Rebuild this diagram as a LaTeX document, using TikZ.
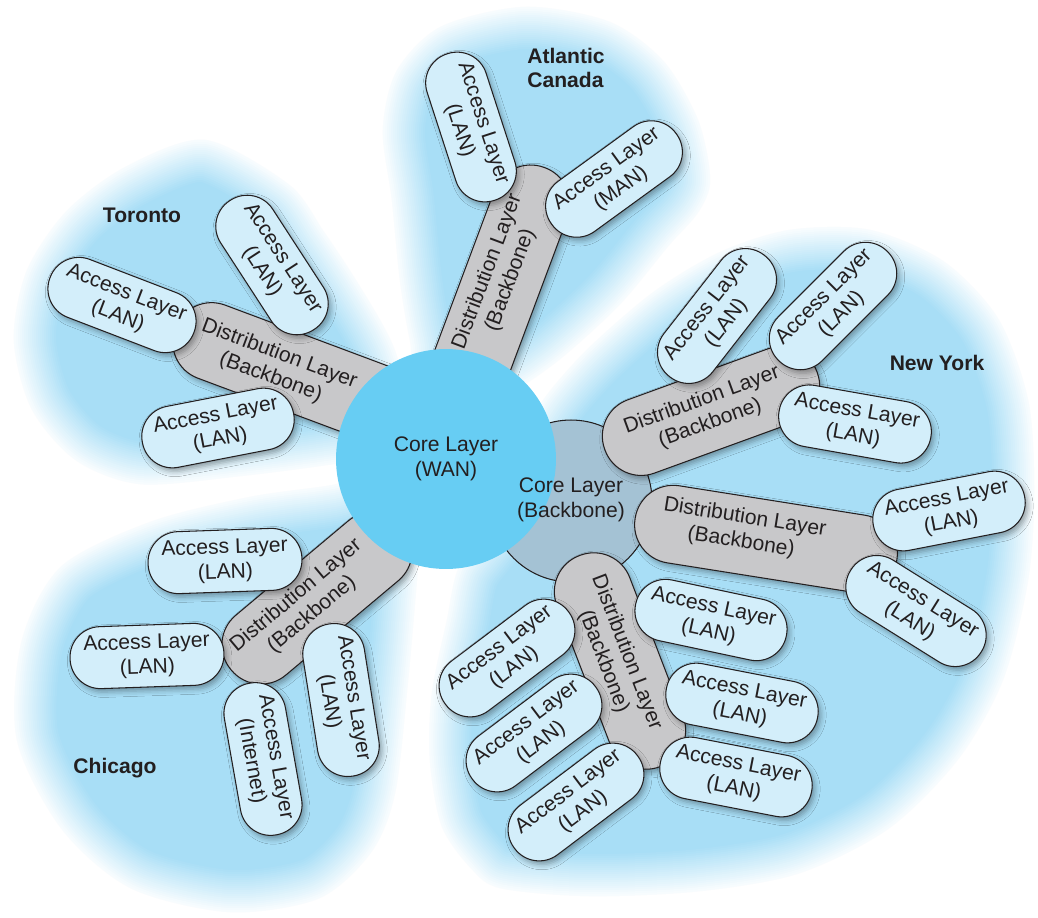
\documentclass[tikz,border=0pt]{standalone}
\usepackage{fontspec}
\setmainfont{Liberation Sans}
\definecolor{regionblue}{HTML}{A8DEF6}
\definecolor{accessfill}{HTML}{D3EEFA}
\definecolor{distgray}{HTML}{C8C8CA}
\definecolor{wanblue}{HTML}{67CDF3}
\definecolor{bbblue}{HTML}{A4C2D4}
\definecolor{inkgray}{HTML}{231F20}
\usetikzlibrary{shapes,shadows.blur,positioning,calc}

% region outlines, in pixel units
\newcommand{\blobtor}{plot[smooth cycle] coordinates {(205,138) (290,183) (325,230) (355,275) (385,325) (400,360) (410,420) (370,458) (333,466) (240,478) (140,486) (75,462) (30,410) (12,340) (25,270) (65,210) (125,165)}}
\newcommand{\blobatl}{plot[smooth cycle] coordinates {(525,5) (610,20) (665,60) (700,120) (712,180) (700,213) (670,247) (620,307) (553,367) (500,395) (420,380) (408,340) (398,280) (390,200) (381,130) (395,70) (440,25)}}
\newcommand{\blobchi}{plot[smooth cycle] coordinates {(20,640) (60,565) (150,520) (250,495) (333,483) (380,470) (425,520) (420,567) (410,680) (397,793) (373,853) (320,900) (230,914) (130,890) (60,830) (15,740)}}
\newcommand{\blobny}{plot[smooth cycle] coordinates {(543,397) (587,347) (653,290) (720,250) (790,228) (870,228) (945,260) (1000,318) (1030,400) (1036,490) (1030,580) (1005,680) (960,760) (890,830) (800,875) (700,893) (590,898) (500,890) (470,870) (440,827) (428,760) (430,693) (445,620) (457,567) (490,520) (520,440)}}

% soft edged region: solid bands, lighter towards the rim
\newcommand{\softblob}[1]{%
  \fill[regionblue] #1;
  \begin{scope}
    \clip #1;
    \foreach \d [evaluate=\d as \p using 100*\d/46, evaluate=\d as \w using 0.04*\d] in {46,44,...,2}
      \draw[regionblue!\p!white, line width=\w cm] #1;
  \end{scope}
  \draw[white, line width=0.06cm] #1;}

\tikzset{
  pilltext/.style={align=center, font=\fontsize{12}{14}\selectfont, text=inkgray},
  access/.style={pilltext, rectangle, rounded corners=0.61cm, minimum width=3.08cm,
    minimum height=1.24cm, inner sep=0pt, fill=accessfill, draw=inkgray, line width=0.6pt,
    blur shadow={shadow xshift=1.5pt, shadow yshift=-2pt, shadow blur radius=3pt, shadow opacity=35}},
  dist/.style={rectangle, rounded corners=0.77cm, minimum height=1.56cm, inner sep=0pt,
    fill=distgray, draw=inkgray, line width=0.6pt,
    blur shadow={shadow xshift=1.5pt, shadow yshift=-2pt, shadow blur radius=3pt, shadow opacity=35}},
  distlabel/.style={pilltext},
  region/.style={font=\bfseries\fontsize{12}{14}\selectfont, text=inkgray},
}

\begin{document}
\begin{tikzpicture}[x=0.02cm, y=-0.02cm]
\fill[white] (0,0) rectangle (1038,917);
\path[use as bounding box] (0,0) rectangle (1038,917);

% Regions
\softblob{\blobtor}
\softblob{\blobatl}
\softblob{\blobchi}
\softblob{\blobny}

% Core backbone (New York)
\node[circle, minimum size=3.24cm, fill=bbblue, draw=inkgray, line width=0.6pt] (bbcore) at (571,501) {};

% Distribution pills
\node[dist, minimum width=5.24cm, rotate=-20.5] (torD) at (298,374) {};
\node[dist, minimum width=5.1cm, rotate=69.5] (atlD) at (500,287) {};
\node[dist, minimum width=4.48cm, rotate=40] (chiD) at (317,598) {};
\node[dist, minimum width=4.52cm, rotate=20] (nyD1) at (711,411) {};
\node[dist, minimum width=5.3cm, rotate=-9] (nyD2) at (766,539) {};
\node[dist, minimum width=4.52cm, rotate=-69] (nyD3) at (620,661) {};

% Core WAN
\node[circle, minimum size=4.4cm, fill=wanblue, pilltext] (wancore) at (446,459) {Core Layer\\(WAN)};
\node[pilltext] (bbcorel) at (571,500) {Core Layer\\(Backbone)};

% Distribution labels
\node[distlabel, rotate=-20.5] (torDl) at (275,366) {Distribution Layer\\(Backbone)};
\node[distlabel, rotate=69.5] (atlDl) at (499,276) {Distribution Layer\\(Backbone)};
\node[distlabel, rotate=40] (chiDl) at (304,605) {Distribution Layer\\(Backbone)};
\node[distlabel, rotate=20] (nyD1l) at (706,412) {Distribution Layer\\(Backbone)};
\node[distlabel, rotate=-9] (nyD2l) at (743,530) {Distribution Layer\\(Backbone)};
\node[distlabel, rotate=-69] (nyD3l) at (615,657) {Distribution Layer\\(Backbone)};

% Access pills - Toronto
\node[access, rotate=-21] (torA1) at (122,305) {Access Layer\\(LAN)};
\node[access, rotate=-57] (torA2) at (272,265) {Access Layer\\(LAN)};
\node[access, rotate=11] (torA3) at (218,428) {Access Layer\\(LAN)};

% Access pills - Atlantic Canada
\node[access, rotate=-72] (atlA1) at (471,127) {Access Layer\\(LAN)};
\node[access, rotate=36] (atlA2) at (614,179) {Access Layer\\(MAN)};

% Access pills - Chicago
\node[access, rotate=2] (chiA1) at (225,561) {Access Layer\\(LAN)};
\node[access, rotate=2] (chiA2) at (147,656) {Access Layer\\(LAN)};
\node[access, rotate=-81] (chiA3) at (341,700) {Access Layer\\(LAN)};
\node[access, rotate=-80] (chiA4) at (263,759) {Access Layer\\(Internet)};

% Access pills - New York
\node[access, rotate=52] (nyA1) at (717,316) {Access Layer\\(LAN)};
\node[access, rotate=45] (nyA2) at (833,306) {Access Layer\\(LAN)};
\node[access, rotate=-10] (nyA3) at (855,424) {Access Layer\\(LAN)};
\node[access, rotate=11] (nyA4) at (949,511) {Access Layer\\(LAN)};
\node[access, rotate=-32] (nyA5) at (916,611) {Access Layer\\(LAN)};
\node[access, rotate=-12] (nyA6) at (711,620) {Access Layer\\(LAN)};
\node[access, rotate=-11] (nyA7) at (742,703) {Access Layer\\(LAN)};
\node[access, rotate=-11] (nyA8) at (736,777) {Access Layer\\(LAN)};
\node[access, rotate=37] (nyA9) at (507,658) {Access Layer\\(LAN)};
\node[access, rotate=37] (nyA10) at (534,733) {Access Layer\\(LAN)};
\node[access, rotate=37] (nyA11) at (576,802) {Access Layer\\(LAN)};

% Region names
\node[region] (torname) at (142,215) {Toronto};
\node[region, align=left] (atlname) at (566,68) {Atlantic\\Canada};
\node[region] (nyname) at (937,363) {New York};
\node[region] (chiname) at (115,768) {Chicago};
\end{tikzpicture}
\end{document}
